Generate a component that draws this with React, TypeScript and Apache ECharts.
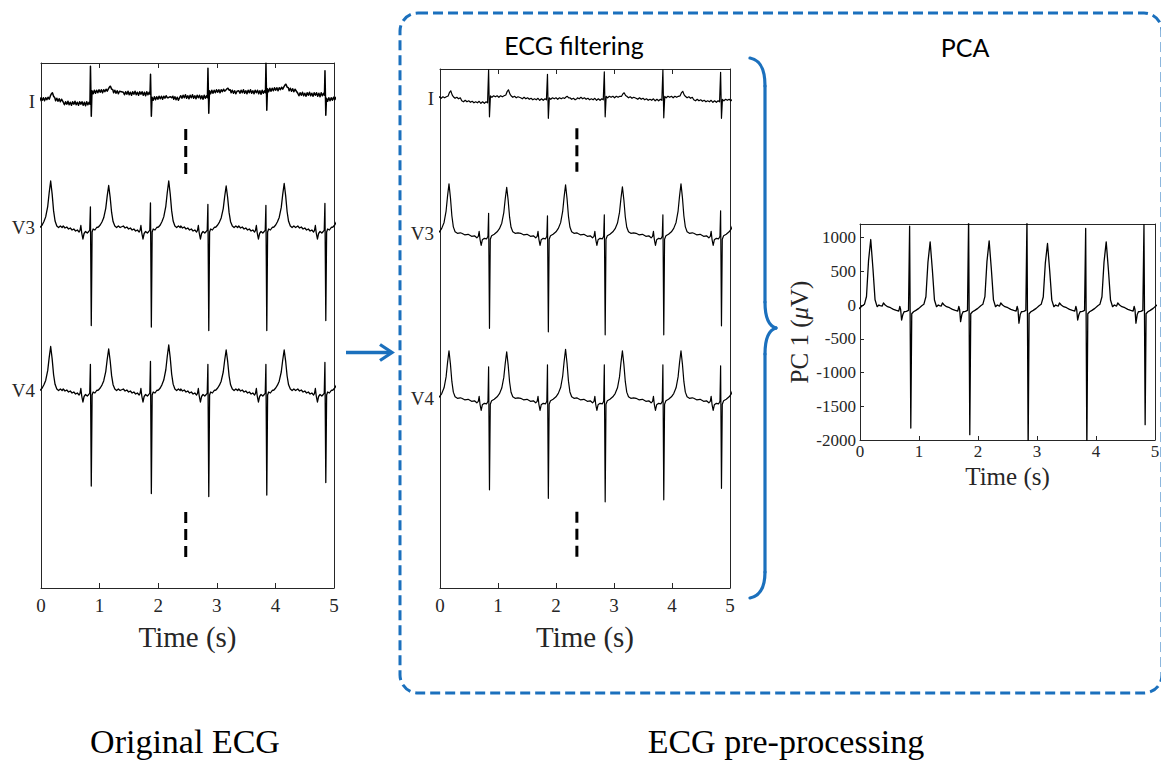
import React, { useEffect, useRef } from "react";
import * as echarts from "echarts";

// ---------------- data ----------------
const timeTicks = [0, 1, 2, 3, 4, 5];
const leadNames = ["I", "V3", "V4"];
const pcaMin = -2000;
const pcaMax = 1200;
const pcaStep = 500;

type Kind = "b" | "R" | "S" | "T" | "Q";
type Knot = [number, Kind, number];
type Amp = { R: number[]; S: number[]; T: number[]; Q?: number[]; pre?: number[]; post?: number[] };

// R-peak times (s) of each beat, including the beat just before t = 0
const origBeats = [-0.14, 0.85, 1.875, 2.855, 3.845, 4.852];
const filtBeats = [-0.15, 0.845, 1.86, 2.84, 3.85, 4.845];
const pcaBeats = [-0.16, 0.847, 1.847, 2.836, 3.831, 4.819];

// per-beat amplitudes (mV) — original ECG
const origI_R = [0.7, 0.74, 0.38, 0.57, 0.57, 0.47];
const origI_S = [-0.4, -0.47, -0.34, -0.41, -0.39, -0.3];
const origI_T = [0.16, 0.13, 0.05, 0.09, 0.13, 0.1];
const origI_pre = [0, -0.03, 0.17, 0.1, 0.2, 0.15];
const origI_post = [0.02, 0.18, 0.05, 0.18, 0.22, 0.03];
const origV3_R = [0.45, 0.4, 0.48, 0.45, 0.43, 0.47];
const origV3_S = [-2.0, -1.97, -2.0, -2.07, -2.07, -1.87];
const origV3_T = [0.92, 0.83, 0.92, 0.82, 0.87, 0.85];
const origV4_R = [0.5, 0.51, 0.57, 0.51, 0.51, 0.55];
const origV4_S = [-2.0, -1.92, -2.07, -2.13, -2.1, -1.85];
const origV4_T = [0.87, 0.82, 0.9, 0.8, 0.8, 0.8];

// per-beat amplitudes (mV) — filtered ECG
const filtI_R = [0.57, 0.62, 0.47, 0.52, 0.57, 0.55];
const filtI_S = [-0.37, -0.39, -0.38, -0.38, -0.4, -0.35];
const filtI_T = [0.15, 0.15, 0.06, 0.1, 0.13, 0.12];
const filtI_pre = [0, -0.05, 0.01, 0.01, 0, -0.03];
const filtI_post = [0, 0.02, -0.02, 0.01, 0.01, -0.05];
const filtV3_R = [0.4, 0.4, 0.35, 0.37, 0.37, 0.45];
const filtV3_S = [-1.9, -1.9, -1.97, -2.03, -2.03, -1.85];
const filtV3_T = [0.99, 0.92, 0.97, 0.93, 0.99, 0.95];
const filtV4_R = [0.63, 0.63, 0.67, 0.67, 0.67, 0.65];
const filtV4_S = [-1.83, -1.83, -2.0, -2.07, -2.03, -1.8];
const filtV4_T = [0.95, 0.93, 0.98, 0.95, 0.95, 0.95];

// per-beat amplitudes (µV) — PC 1
const pca_R = [1200, 1167, 1300, 1300, 1133, 1190];
const pca_S = [-1850, -1823, -1921, -2150, -2150, -1773];
const pca_T = [970, 936, 950, 911, 936, 930];
const pca_Q = [-230, -222, -246, -270, -222, -270];

// beat shapes: [time from R (s), kind, value]; 'b' = absolute, others scale the per-beat amplitude
const leadIOrigShape: Knot[] = [
  [-0.47, "b", 0.02], [-0.45, "b", -0.03], [-0.43, "b", 0.03], [-0.41, "b", -0.02], [-0.39, "b", 0.04],
  [-0.37, "b", -0.03], [-0.35, "b", 0.02], [-0.33, "b", -0.04], [-0.31, "b", 0.03], [-0.29, "b", -0.02],
  [-0.27, "b", 0.04], [-0.25, "b", -0.03], [-0.23, "b", 0.02], [-0.21, "b", -0.04], [-0.19, "b", 0.03],
  [-0.17, "b", -0.02], [-0.15, "b", 0.03], [-0.13, "b", -0.04], [-0.11, "b", 0.02], [-0.09, "b", -0.05],
  [-0.07, "b", 0.03], [-0.05, "b", -0.03], [-0.03, "b", 0.02], [-0.015, "b", -0.02],
  [-0.006, "R", 1], [0.008, "S", 1],
  [0.02, "b", 0.04], [0.04, "b", -0.02], [0.06, "b", 0.05], [0.08, "b", -0.01], [0.1, "b", 0.05],
  [0.12, "b", 0.0], [0.14, "b", 0.06], [0.16, "b", 0.01], [0.18, "b", 0.06], [0.2, "b", 0.0],
  [0.22, "b", 0.06], [0.24, "b", 0.02], [0.26, "b", 0.07], [0.28, "b", 0.03], [0.3, "T", 0.6],
  [0.32, "T", 0.9], [0.335, "T", 1], [0.355, "T", 0.55], [0.375, "b", 0.06], [0.39, "b", 0.0],
  [0.41, "b", 0.05], [0.43, "b", -0.01], [0.45, "b", 0.04], [0.47, "b", -0.02], [0.49, "b", 0.03],
];
const leadIFiltShape: Knot[] = [
  [-0.47, "b", 0.0], [-0.44, "b", -0.02], [-0.41, "b", 0.01], [-0.38, "b", -0.02], [-0.35, "b", 0.0],
  [-0.32, "b", -0.03], [-0.29, "b", -0.01], [-0.26, "b", -0.04], [-0.23, "b", -0.02], [-0.2, "b", -0.04],
  [-0.17, "b", -0.01], [-0.14, "b", -0.05], [-0.11, "b", -0.02], [-0.08, "b", -0.05], [-0.05, "b", -0.02],
  [-0.025, "b", -0.04], [-0.007, "R", 1], [0.008, "S", 1],
  [0.025, "b", 0.03], [0.05, "b", 0.0], [0.08, "b", 0.03], [0.11, "b", 0.01], [0.14, "b", 0.03],
  [0.17, "b", 0.0], [0.2, "b", 0.03], [0.23, "b", 0.01], [0.26, "b", 0.03], [0.29, "T", 0.3],
  [0.315, "T", 0.8], [0.335, "T", 1], [0.36, "T", 0.45], [0.38, "b", 0.03], [0.41, "b", 0.0],
  [0.44, "b", 0.02], [0.47, "b", -0.01], [0.5, "b", 0.01],
];
const chestOrigShape: Knot[] = [
  [-0.47, "b", 0.02], [-0.44, "b", -0.02], [-0.41, "b", 0.0], [-0.38, "b", -0.04], [-0.35, "b", -0.02],
  [-0.32, "b", -0.06], [-0.29, "b", -0.04], [-0.26, "b", -0.08], [-0.23, "b", -0.06], [-0.2, "b", -0.1],
  [-0.185, "b", -0.07], [-0.17, "b", 0.03], [-0.155, "b", -0.12], [-0.135, "b", -0.24], [-0.115, "b", -0.13],
  [-0.09, "b", -0.09], [-0.06, "b", -0.12], [-0.035, "b", -0.09], [-0.018, "b", -0.06],
  [-0.007, "R", 1], [0.008, "S", 1],
  [0.022, "b", -0.1], [0.04, "b", -0.04], [0.07, "b", -0.06], [0.1, "b", -0.01], [0.13, "b", 0.0],
  [0.16, "b", 0.04], [0.19, "T", 0.12], [0.22, "T", 0.22], [0.255, "T", 0.45], [0.28, "T", 0.75],
  [0.305, "T", 1], [0.33, "T", 0.72], [0.355, "T", 0.35], [0.38, "T", 0.13], [0.41, "b", 0.02],
  [0.44, "b", -0.01], [0.47, "b", 0.02], [0.5, "b", -0.01],
];
const chestFiltShape: Knot[] = [
  [-0.47, "b", 0.0], [-0.42, "b", -0.03], [-0.36, "b", -0.02], [-0.3, "b", -0.06], [-0.25, "b", -0.05],
  [-0.21, "b", -0.09], [-0.185, "b", -0.06], [-0.17, "b", 0.04], [-0.155, "b", -0.12], [-0.135, "b", -0.24],
  [-0.115, "b", -0.13], [-0.08, "b", -0.1], [-0.04, "b", -0.11], [-0.018, "b", -0.06],
  [-0.007, "R", 1], [0.008, "S", 1],
  [0.022, "b", -0.12], [0.045, "b", -0.05], [0.09, "b", -0.02], [0.14, "b", 0.03], [0.18, "T", 0.1],
  [0.22, "T", 0.22], [0.255, "T", 0.45], [0.28, "T", 0.75], [0.305, "T", 1], [0.33, "T", 0.72],
  [0.355, "T", 0.35], [0.38, "T", 0.13], [0.41, "b", 0.03], [0.45, "b", 0.0], [0.5, "b", 0.01],
];
const pcaShape: Knot[] = [
  [-0.47, "b", -15], [-0.45, "b", 30], [-0.42, "b", 0], [-0.38, "b", -25], [-0.33, "b", -40],
  [-0.28, "b", -65], [-0.23, "b", -80], [-0.19, "b", -90], [-0.172, "b", -20], [-0.158, "b", -70],
  [-0.142, "Q", 1], [-0.12, "b", -140], [-0.1, "b", -100], [-0.06, "b", -95], [-0.025, "b", -80],
  [-0.006, "R", 1], [0.014, "S", 1],
  [0.03, "b", -130], [0.06, "b", -100], [0.1, "b", -80], [0.15, "b", -50], [0.2, "b", -10],
  [0.235, "b", 10], [0.27, "T", 0.13], [0.305, "T", 0.68], [0.342, "T", 1], [0.38, "T", 0.55],
  [0.415, "T", 0.08], [0.45, "b", -25], [0.48, "b", 0], [0.5, "b", -10],
];

// "continuation" dash marks: time (s), span above V3 baseline and below V4 baseline (mV)
const origGapTime = 2.47;
const origGapUpper = [1.96, 1.04];
const origGapLower = [-2.44, -3.34];
const filtGapTime = 2.36;
const filtGapUpper = [2.1, 1.23];
const filtGapLower = [-2.27, -3.17];

// ---------------- helpers ----------------
function buildTrace(beats: number[], shape: Knot[], amp: Amp): number[][] {
  const pts: number[][] = [];
  beats.forEach((r, i) => {
    shape.forEach(([dt, k, v]) => {
      const base = dt < 0 ? (amp.pre ? amp.pre[i] : 0) : amp.post ? amp.post[i] : 0;
      const val = k === "b" ? v : v * (amp[k] as number[])[i];
      pts.push([+(r + dt).toFixed(4), +(val + base).toFixed(4)]);
    });
  });
  return pts;
}

const SERIF = '"Liberation Serif", "Times New Roman", serif';
const AX = "#262626";
const BLUE = "#1b70bd";
const PX_PER_MV = 50;
const leadRanges = [
  [-1, 1],
  [-2.5, 2.5],
  [-3.5, 1.5],
];

export default function App() {
  const ref = useRef<HTMLDivElement>(null);

  useEffect(() => {
    if (!ref.current) return;
    const chart = echarts.init(ref.current, null, { renderer: "svg" });

    const panels = [
      {
        left: 41, width: 293, boxTop: 63, boxHeight: 525,
        baselines: [101.7, 227, 390],
        beats: origBeats,
        leads: [
          { shape: leadIOrigShape, amp: { R: origI_R, S: origI_S, T: origI_T, pre: origI_pre, post: origI_post }, w: 1.5 },
          { shape: chestOrigShape, amp: { R: origV3_R, S: origV3_S, T: origV3_T }, w: 1.3 },
          { shape: chestOrigShape, amp: { R: origV4_R, S: origV4_S, T: origV4_T }, w: 1.3 },
        ],
        gapT: origGapTime, gapU: origGapUpper, gapL: origGapLower,
      },
      {
        left: 440, width: 290, boxTop: 69, boxHeight: 519,
        baselines: [98.3, 233.3, 398.3],
        beats: filtBeats,
        leads: [
          { shape: leadIFiltShape, amp: { R: filtI_R, S: filtI_S, T: filtI_T, pre: filtI_pre, post: filtI_post }, w: 1.2 },
          { shape: chestFiltShape, amp: { R: filtV3_R, S: filtV3_S, T: filtV3_T }, w: 1.2 },
          { shape: chestFiltShape, amp: { R: filtV4_R, S: filtV4_S, T: filtV4_T }, w: 1.2 },
        ],
        gapT: filtGapTime, gapU: filtGapUpper, gapL: filtGapLower,
      },
    ];

    const grid: any[] = [];
    const xAxis: any[] = [];
    const yAxis: any[] = [];
    const series: any[] = [];

    const lineAx = { show: true, onZero: false, lineStyle: { color: AX, width: 1 } };

    panels.forEach((p) => {
      // box grid
      const gBox = grid.length;
      grid.push({ left: p.left, top: p.boxTop, width: p.width, height: p.boxHeight, containLabel: false, outerBoundsMode: "none" });
      xAxis.push({
        type: "value", gridIndex: gBox, min: timeTicks[0], max: timeTicks[timeTicks.length - 1], interval: 1,
        axisLine: lineAx,
        axisTick: { inside: true, length: 5, lineStyle: { color: AX } },
        axisLabel: { fontFamily: SERIF, fontSize: 19, color: AX, margin: 8, formatter: (v: number) => String(v) },
        splitLine: { show: false },
        name: "Time (s)", nameLocation: "middle", nameGap: 34,
        nameTextStyle: { fontFamily: SERIF, fontSize: 29, color: AX },
      });
      xAxis.push({
        type: "value", gridIndex: gBox, position: "top", min: 0, max: 5, interval: 1,
        axisLine: lineAx,
        axisTick: { inside: true, length: 5, lineStyle: { color: AX } },
        axisLabel: { show: false }, splitLine: { show: false },
      });
      yAxis.push({ type: "value", gridIndex: gBox, min: 0, max: 1, axisLine: lineAx, axisTick: { show: false }, axisLabel: { show: false }, splitLine: { show: false } });
      yAxis.push({ type: "value", gridIndex: gBox, position: "right", min: 0, max: 1, axisLine: lineAx, axisTick: { show: false }, axisLabel: { show: false }, splitLine: { show: false } });

      // lead grids
      p.leads.forEach((ld, li) => {
        const [mn, mx] = leadRanges[li];
        const g = grid.length;
        grid.push({
          left: p.left, width: p.width,
          top: p.baselines[li] - mx * PX_PER_MV,
          height: (mx - mn) * PX_PER_MV,
          containLabel: false, outerBoundsMode: "none",
        });
        const xi = xAxis.length;
        xAxis.push({ type: "value", gridIndex: g, min: 0, max: 5, show: false });
        const yi = yAxis.length;
        const name = leadNames[li];
        yAxis.push({
          type: "value", gridIndex: g, min: mn, max: mx, interval: 0.5,
          axisLine: { show: false }, axisTick: { show: false }, splitLine: { show: false },
          axisLabel: {
            formatter: (v: number) => (Math.abs(v) < 1e-9 ? name : ""),
            fontFamily: SERIF, fontSize: 19, color: AX, margin: 6,
          },
        });
        series.push({
          type: "line", xAxisIndex: xi, yAxisIndex: yi,
          data: buildTrace(p.beats, ld.shape, ld.amp as Amp),
          showSymbol: false, symbol: "none", silent: true, clip: true,
          lineStyle: { color: "#000", width: ld.w, join: "round" },
        });
        if (li === 1 || li === 2) {
          const span = li === 1 ? p.gapU : p.gapL;
          series.push({
            type: "line", xAxisIndex: xi, yAxisIndex: yi,
            data: [[p.gapT, span[0]], [p.gapT, span[1]]],
            showSymbol: false, symbol: "none", silent: true, clip: false,
            lineStyle: { color: "#000", width: 3, type: [11, 6] },
          });
        }
      });
    });

    // PCA grid
    const gP = grid.length;
    grid.push({ left: 860, top: 224, width: 295, height: 216, containLabel: false, outerBoundsMode: "none" });
    const xP = xAxis.length;
    xAxis.push({
      type: "value", gridIndex: gP, min: 0, max: 5, interval: 1,
      axisLine: lineAx,
      axisTick: { inside: true, length: 4, lineStyle: { color: AX } },
      axisLabel: { fontFamily: SERIF, fontSize: 17, color: AX, margin: 3, formatter: (v: number) => String(v) },
      splitLine: { show: false },
      name: "Time (s)", nameLocation: "middle", nameGap: 24,
      nameTextStyle: { fontFamily: SERIF, fontSize: 25, color: AX },
    });
    xAxis.push({ type: "value", gridIndex: gP, position: "top", min: 0, max: 5, axisLine: lineAx, axisTick: { show: false }, axisLabel: { show: false }, splitLine: { show: false } });
    const yP = yAxis.length;
    yAxis.push({
      type: "value", gridIndex: gP, min: pcaMin, max: pcaMax, interval: pcaStep,
      axisLine: lineAx,
      axisTick: { inside: true, length: 4, lineStyle: { color: AX } },
      axisLabel: { fontFamily: SERIF, fontSize: 17, color: AX, margin: 4, showMaxLabel: false, formatter: (v: number) => String(v) },
      splitLine: { show: false },
      name: "PC 1 ({m|μ}V)", nameLocation: "middle", nameGap: 46, nameRotate: 90,
      nameTextStyle: {
        fontFamily: SERIF, fontSize: 25, color: AX,
        rich: { m: { fontFamily: SERIF, fontSize: 25, fontStyle: "italic", color: AX } },
      },
    });
    yAxis.push({ type: "value", gridIndex: gP, position: "right", min: pcaMin, max: pcaMax, axisLine: lineAx, axisTick: { show: false }, axisLabel: { show: false }, splitLine: { show: false } });
    series.push({
      type: "line", xAxisIndex: xP, yAxisIndex: yP,
      data: buildTrace(pcaBeats, pcaShape, { R: pca_R, S: pca_S, T: pca_T, Q: pca_Q }),
      showSymbol: false, symbol: "none", silent: true, clip: true,
      lineStyle: { color: "#000", width: 1.3, join: "round" },
    });

    const blueLine = { stroke: BLUE, lineWidth: 3.2, fill: "none", lineCap: "round" };
    const graphic: any[] = [
      {
        type: "rect", silent: true,
        shape: { x: 400, y: 13, width: 762, height: 680, r: 18 },
        style: { fill: "none", stroke: BLUE, lineWidth: 3, lineDash: [10, 5] },
      },
      { type: "line", silent: true, shape: { x1: 346, y1: 352.5, x2: 390, y2: 352.5 }, style: { stroke: BLUE, lineWidth: 3.3 } },
      { type: "polyline", silent: true, shape: { points: [[380, 344.5], [392, 352.5], [380, 360.5]] }, style: { stroke: BLUE, lineWidth: 3.3, fill: "none", lineJoin: "miter" } },
      // curly brace
      { type: "bezierCurve", silent: true, shape: { x1: 750, y1: 58, cpx1: 760, cpy1: 60, cpx2: 765, cpy2: 68, x2: 765, y2: 86 }, style: blueLine },
      { type: "line", silent: true, shape: { x1: 765, y1: 86, x2: 765, y2: 302 }, style: blueLine },
      { type: "bezierCurve", silent: true, shape: { x1: 765, y1: 302, cpx1: 765, cpy1: 318, cpx2: 769, cpy2: 326, x2: 776, y2: 328 }, style: blueLine },
      { type: "bezierCurve", silent: true, shape: { x1: 776, y1: 328, cpx1: 769, cpy1: 330, cpx2: 765, cpy2: 338, x2: 765, y2: 354 }, style: blueLine },
      { type: "line", silent: true, shape: { x1: 765, y1: 354, x2: 765, y2: 572 }, style: blueLine },
      { type: "bezierCurve", silent: true, shape: { x1: 765, y1: 572, cpx1: 765, cpy1: 588, cpx2: 760, cpy2: 596, x2: 750, y2: 598 }, style: blueLine },
      // titles
      { type: "text", silent: true, style: { text: "ECG filtering", x: 574, y: 45, align: "center", verticalAlign: "middle", fontFamily: "Lato, 'Open Sans', sans-serif", fontSize: 25, fill: "#000" } },
      { type: "text", silent: true, style: { text: "PCA", x: 965, y: 47, align: "center", verticalAlign: "middle", fontFamily: "Lato, 'Open Sans', sans-serif", fontSize: 25, fill: "#000" } },
      { type: "text", silent: true, style: { text: "Original ECG", x: 185, y: 741, align: "center", verticalAlign: "middle", fontFamily: SERIF, fontSize: 34, fill: "#000" } },
      { type: "text", silent: true, style: { text: "ECG pre-processing", x: 786, y: 741, align: "center", verticalAlign: "middle", fontFamily: SERIF, fontSize: 34, fill: "#000" } },
    ];

    chart.setOption({
      animation: false,
      backgroundColor: "#fff",
      grid, xAxis, yAxis, series, graphic,
    });

    return () => chart.dispose();
  }, []);

  return (
    <div
      ref={ref}
      style={{ position: "fixed", left: 0, top: 0, width: 1161, height: 764, background: "#fff" }}
    />
  );
}
